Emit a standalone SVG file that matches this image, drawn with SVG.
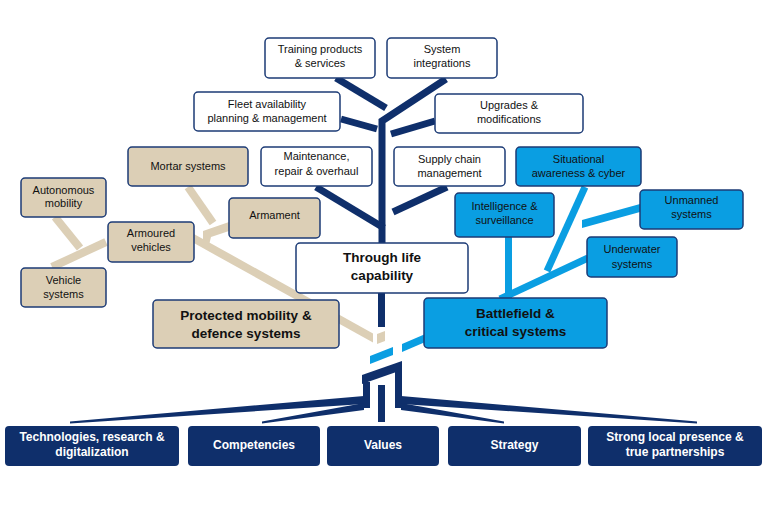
<svg xmlns="http://www.w3.org/2000/svg" width="768" height="512" viewBox="0 0 768 512">
<style>
.t{font-family:"Liberation Sans",Arial,sans-serif;font-size:11px;fill:#111;text-anchor:middle}
.b{font-family:"Liberation Sans",Arial,sans-serif;font-size:13.5px;font-weight:bold;fill:#111;text-anchor:middle}
.w{font-family:"Liberation Sans",Arial,sans-serif;font-size:12px;font-weight:bold;fill:#fff;text-anchor:middle}
.nw{fill:#fff;stroke:#1c3b76;stroke-width:1.5}
.nt{fill:#dccfb6;stroke:#1c3b76;stroke-width:1.5}
.nb{fill:#0a9ee2;stroke:#1c3b76;stroke-width:1.5}
.nf{fill:#0f2f6b}
.ln{stroke:#0f2f6b;stroke-width:7;fill:none}
.lt{stroke:#dccfb6;stroke-width:8;fill:none}
.lb{stroke:#0a9ee2;stroke-width:7;fill:none}
.pn{fill:#0f2f6b}
.pt{fill:#dccfb6}
.pb{fill:#0a9ee2}
</style>
<rect width="768" height="512" fill="#fff"/>
<g id="connectors">
<polyline class="ln" points="446,79 382,121 382,243"/>
<line class="ln" x1="336" y1="78" x2="386" y2="108"/>
<line class="ln" x1="341" y1="119" x2="377" y2="129"/>
<line class="ln" x1="435" y1="121" x2="391" y2="134"/>
<line class="ln" x1="316" y1="187" x2="384" y2="228"/>
<line class="ln" x1="447" y1="187" x2="393" y2="212"/>
<line class="ln" x1="381.5" y1="293" x2="381.5" y2="327"/>
<line class="lt" x1="55" y1="217" x2="80" y2="248"/>
<line class="lt" x1="52" y1="267" x2="106" y2="242"/>
<line class="lt" x1="188" y1="187" x2="213" y2="223"/>
<polygon class="pt" points="203,231 229,222 229,231 211,237 209,245 203,243"/>
<polygon class="pt" points="193,233.4 373,333.4 373,342.6 193,242.6"/>
<polygon class="pt" points="377,334 385,331 385,341 377,344"/>
<line class="lb" x1="508.5" y1="237" x2="508.5" y2="298"/>
<line class="lb" x1="585" y1="187" x2="547" y2="271"/>
<polygon class="pb" points="640,204 640,212 582,228 582,220"/>
<line class="lb" x1="588" y1="258" x2="500" y2="299"/>
<polygon class="pb" points="370,356 393,347 393,355 370,364"/>
<polygon class="pb" points="402,344 430,332 430,340 402,352"/>
<polygon class="pn" points="362,375 402,361 402,370 362,384"/>
<rect class="pn" x="363" y="382" width="7" height="26"/>
<rect class="pn" x="378" y="385" width="7" height="37"/>
<rect class="pn" x="395" y="370" width="7" height="38"/>
<polygon class="pn" points="364,396 364,404 70,423.5 70,421.5"/>
<polygon class="pn" points="364,403 364,410 262,423.5 262,421.5"/>
<polygon class="pn" points="401,396 401,404 697,423.5 697,421.5"/>
<polygon class="pn" points="401,403 401,410 504,423.5 504,421.5"/>
</g>
<g id="n-training"><rect class="nw" x="265" y="38" width="110" height="40" rx="4"/><text class="t" x="320" y="53">Training products</text><text class="t" x="320" y="67">&amp; services</text></g>
<g id="n-sysint"><rect class="nw" x="387" y="38" width="110" height="40" rx="4"/><text class="t" x="442" y="53">System</text><text class="t" x="442" y="67">integrations</text></g>
<g id="n-fleet"><rect class="nw" x="194" y="92" width="146" height="39" rx="4"/><text class="t" x="267" y="108">Fleet availability</text><text class="t" x="267" y="122">planning &amp; management</text></g>
<g id="n-upgrades"><rect class="nw" x="435" y="94" width="148" height="39" rx="4"/><text class="t" x="509" y="109">Upgrades &amp;</text><text class="t" x="509" y="123">modifications</text></g>
<g id="n-maint"><rect class="nw" x="261" y="147" width="111" height="39" rx="4"/><text class="t" x="316.5" y="160">Maintenance,</text><text class="t" x="316.5" y="175">repair &amp; overhaul</text></g>
<g id="n-supply"><rect class="nw" x="394" y="147" width="111" height="39" rx="4"/><text class="t" x="449.5" y="163">Supply chain</text><text class="t" x="449.5" y="177">management</text></g>
<g id="n-tlc"><rect class="nw" x="296" y="243" width="172" height="50" rx="4"/><text class="b" x="382" y="262">Through life</text><text class="b" x="382" y="280">capability</text></g>
<g id="n-mortar"><rect class="nt" x="128" y="147" width="120" height="39" rx="4"/><text class="t" x="188" y="170">Mortar systems</text></g>
<g id="n-auto"><rect class="nt" x="21" y="178" width="85" height="39" rx="4"/><text class="t" x="63.5" y="194">Autonomous</text><text class="t" x="63.5" y="207">mobility</text></g>
<g id="n-armament"><rect class="nt" x="229" y="198" width="91" height="40" rx="4"/><text class="t" x="274.5" y="219">Armament</text></g>
<g id="n-armoured"><rect class="nt" x="108" y="222" width="86" height="40" rx="4"/><text class="t" x="151" y="237">Armoured</text><text class="t" x="151" y="251">vehicles</text></g>
<g id="n-vehicle"><rect class="nt" x="21" y="268" width="85" height="39" rx="4"/><text class="t" x="63.5" y="284">Vehicle</text><text class="t" x="63.5" y="298">systems</text></g>
<g id="n-protected"><rect class="nt" x="153" y="300" width="186" height="48" rx="4"/><text class="b" x="246" y="320">Protected mobility &amp;</text><text class="b" x="246" y="338">defence systems</text></g>
<g id="n-situational"><rect class="nb" x="516" y="147" width="125" height="39" rx="4"/><text class="t" x="578.5" y="163">Situational</text><text class="t" x="578.5" y="177">awareness &amp; cyber</text></g>
<g id="n-intel"><rect class="nb" x="455" y="193" width="99" height="44" rx="4"/><text class="t" x="504.5" y="210">Intelligence &amp;</text><text class="t" x="504.5" y="224">surveillance</text></g>
<g id="n-unmanned"><rect class="nb" x="640" y="190" width="103" height="39" rx="4"/><text class="t" x="691.5" y="204">Unmanned</text><text class="t" x="691.5" y="218">systems</text></g>
<g id="n-underwater"><rect class="nb" x="587" y="237" width="90" height="40" rx="4"/><text class="t" x="632" y="253">Underwater</text><text class="t" x="632" y="268">systems</text></g>
<g id="n-battlefield"><rect class="nb" x="424" y="298" width="183" height="50" rx="4"/><text class="b" x="515.5" y="318">Battlefield &amp;</text><text class="b" x="515.5" y="336">critical systems</text></g>
<g id="n-tech"><rect class="nf" x="5" y="426" width="174" height="40" rx="4"/><text class="w" x="92" y="441">Technologies, research &amp;</text><text class="w" x="92" y="456">digitalization</text></g>
<g id="n-comp"><rect class="nf" x="188" y="426" width="132" height="40" rx="4"/><text class="w" x="254" y="449">Competencies</text></g>
<g id="n-values"><rect class="nf" x="327" y="426" width="112" height="40" rx="4"/><text class="w" x="383" y="449">Values</text></g>
<g id="n-strategy"><rect class="nf" x="448" y="426" width="133" height="40" rx="4"/><text class="w" x="514.5" y="449">Strategy</text></g>
<g id="n-local"><rect class="nf" x="588" y="426" width="174" height="40" rx="4"/><text class="w" x="675" y="441">Strong local presence &amp;</text><text class="w" x="675" y="456">true partnerships</text></g>
</svg>
